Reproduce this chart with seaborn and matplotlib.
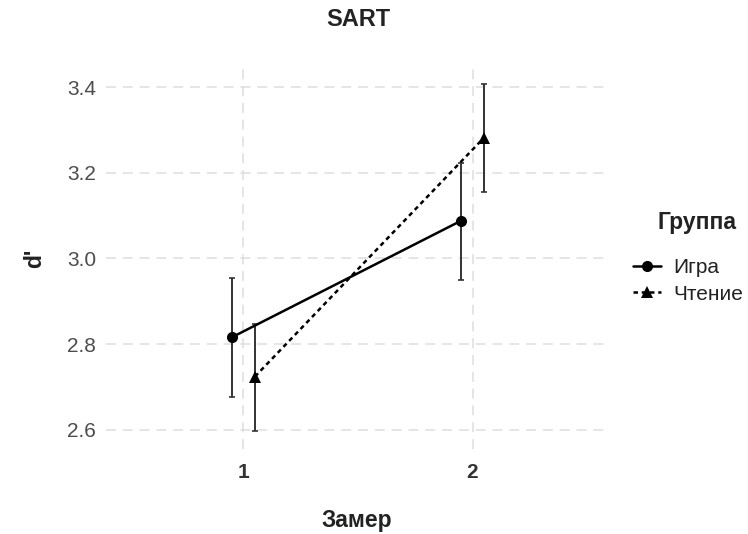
import matplotlib
matplotlib.use("Agg")
import matplotlib.pyplot as plt
import seaborn as sns
import pandas as pd
import numpy as np

groups = ["Игра", "Игра", "Чтение", "Чтение"]
zamer = [1, 2, 1, 2]
mean_d = [2.816, 3.088, 2.724, 3.282]
low_d = [2.676, 2.950, 2.596, 3.154]
high_d = [2.955, 3.224, 2.848, 3.407]
group_order = ["Игра", "Чтение"]
dodge = {"Игра": -0.05, "Чтение": 0.05}

df = pd.DataFrame({"Группа": groups, "Замер": zamer, "d": mean_d,
                   "low": low_d, "high": high_d})
df["xpos"] = df["Замер"] + df["Группа"].map(dodge)

sns.set_theme(style="white")
plt.rcParams["font.family"] = ["Liberation Sans", "DejaVu Sans"]

fig = plt.figure(figsize=(7.48, 5.34), dpi=100)
ax = fig.add_axes([106/748, 1 - 449/534, (610-106)/748, (449-67)/534])

for g in group_order:
    sub = df[df["Группа"] == g]
    ax.errorbar(sub["xpos"], sub["d"],
                yerr=[sub["d"] - sub["low"], sub["high"] - sub["d"]],
                fmt="none", ecolor="#333333", elinewidth=1.4, capsize=2.5,
                capthick=1.2, zorder=2)

sns.lineplot(data=df, x="xpos", y="d", hue="Группа", style="Группа",
             hue_order=group_order, style_order=group_order,
             palette=["black", "black"], markers={"Игра": "o", "Чтение": "^"},
             dashes={"Игра": "", "Чтение": (1.8, 1.5)}, markersize=8,
             linewidth=1.8, ax=ax, zorder=3, markeredgewidth=0)

ax.set_xlim(0.4, 2.6)
ax.set_ylim(2.555, 3.447)
ax.set_xticks([1, 2])
ax.set_xticklabels(["1", "2"], fontsize=15, fontweight="bold", color="#333333")
ax.set_yticks([2.6, 2.8, 3.0, 3.2, 3.4])
ax.set_yticklabels(["2.6", "2.8", "3.0", "3.2", "3.4"], fontsize=15, color="#4d4d4d")
ax.grid(True, color="#dedede", linestyle=(0, (6.5, 4.5)), linewidth=1.1)
for s in ax.spines.values():
    s.set_visible(False)
ax.tick_params(axis="x", length=0, pad=10)
ax.tick_params(axis="y", length=0, pad=7)
ax.set_xlabel("")
ax.set_ylabel("")

fig.text(357/748, 1 - 521/534, "Замер", ha="center", va="center",
         fontsize=16.5, fontweight="bold", color="#222222")
fig.text(35/748, 1 - 258/534, "d'", ha="center", va="center", rotation=90,
         fontsize=16.5, fontweight="bold", color="#222222")
fig.text(358/748, 1 - 19/534, "SART", ha="center", va="center",
         fontsize=17, fontweight="bold", color="#222222")

handles, labels = ax.get_legend_handles_labels()
if ax.get_legend() is not None:
    ax.get_legend().remove()
fig.text(697/748, 1 - 222/534, "Группа", ha="center", va="center",
         fontsize=16.5, fontweight="bold", color="#222222")
leg = fig.legend(handles=handles, labels=labels,
                 loc="center left", bbox_to_anchor=(633/748, 1 - 281/534),
                 frameon=False, fontsize=15, handlelength=1.35,
                 handletextpad=0.6, labelspacing=0.35, borderpad=0,
                 borderaxespad=0)
for t in leg.get_texts():
    t.set_color("#222222")

fig.savefig("out.png", dpi=100)
